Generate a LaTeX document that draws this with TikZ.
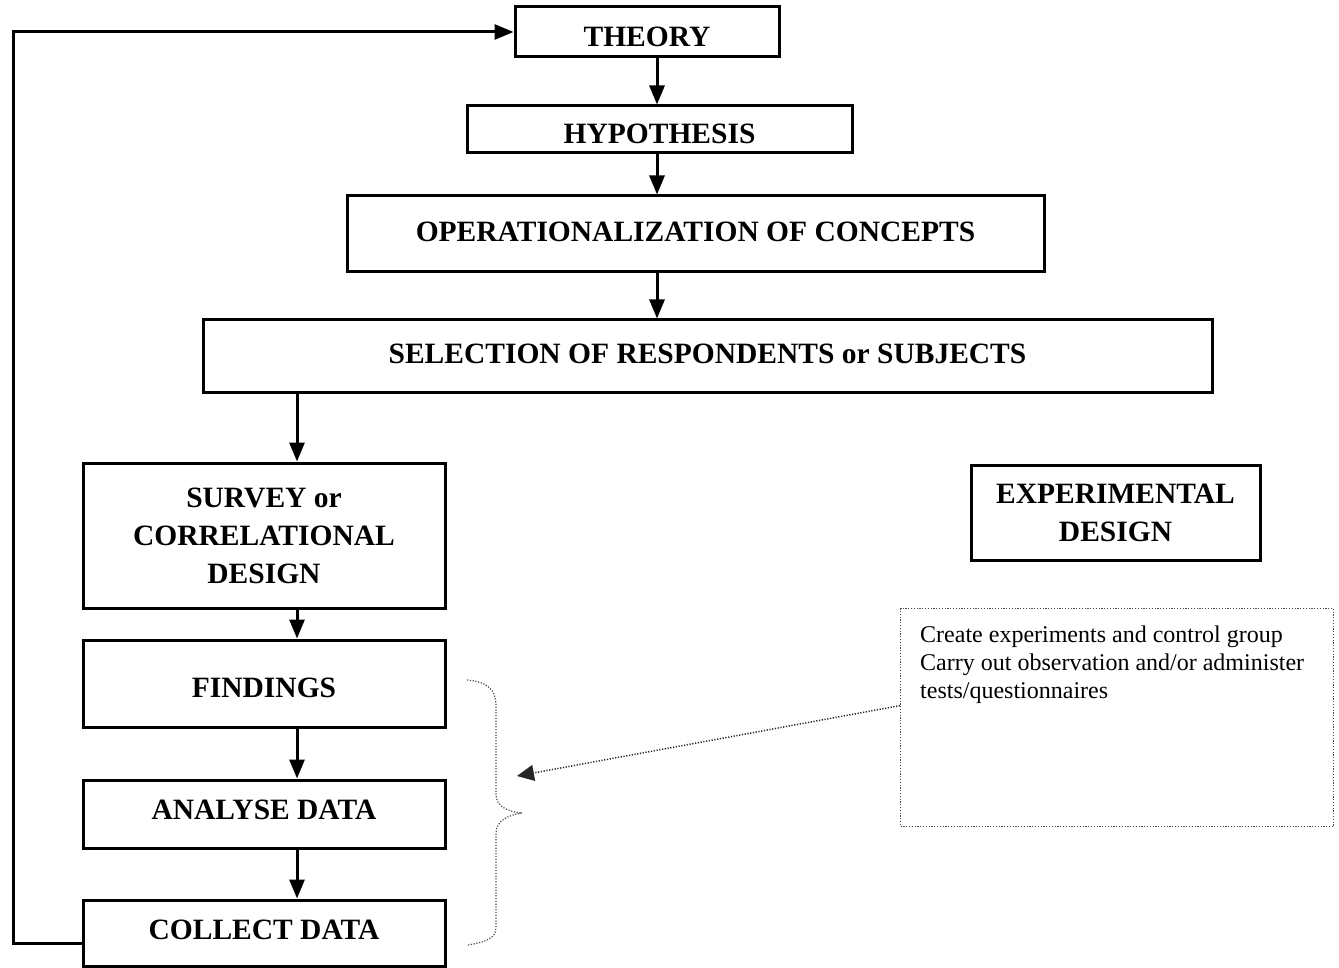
\documentclass[tikz,border=0pt]{standalone}
\usepackage{fontspec}
\setmainfont{Liberation Serif}
\usetikzlibrary{arrows.meta,calc}

% move the ink of a label up or down without changing its box
\newcommand{\nudge}[2]{\raisebox{#1}[\height][\depth]{#2}}

\begin{document}
\begin{tikzpicture}[x=1pt,y=-1pt,
  box/.style={draw,line width=3pt,align=center,inner sep=0pt,
    font=\fontsize{29.5}{38}\selectfont\bfseries},
  arr/.style={line width=3pt,-{Triangle[length=19pt,width=15pt]}},
  dotline/.style={gray!60!black,line width=1.2pt,dash pattern=on 1.2pt off 1.6pt},
  note/.style={align=left,anchor=north west,inner sep=0pt,
    font=\fontsize{24}{28}\selectfont}
]
\useasboundingbox (0,0) rectangle (1339,968);

% main chain of boxes
\node[box,minimum width=264pt,minimum height=50pt] (theory) at (647,32) {\nudge{-5pt}{THEORY}};
\node[box,minimum width=385pt,minimum height=47pt] (hyp) at (659.5,129.5) {\nudge{-4pt}{HYPOTHESIS}};
\node[box,minimum width=697pt,minimum height=76pt] (oper) at (695.5,234) {\nudge{2pt}{OPERATIONALIZATION OF CONCEPTS}};
\node[box,minimum width=1009pt,minimum height=72pt] (sel) at (707.5,356) {\nudge{2pt}{SELECTION OF RESPONDENTS or SUBJECTS}};
\node[box,minimum width=362pt,minimum height=145pt] (survey) at (264,535.5) {SURVEY or\\CORRELATIONAL\\DESIGN};
\node[box,minimum width=289pt,minimum height=95pt] (exper) at (1115.5,512.5) {EXPERIMENTAL\\DESIGN};
\node[box,minimum width=362pt,minimum height=87pt] (find) at (264,683.5) {\nudge{-4pt}{FINDINGS}};
\node[box,minimum width=362pt,minimum height=68pt] (analyse) at (264,814) {\nudge{4pt}{ANALYSE DATA}};
\node[box,minimum width=362pt,minimum height=66pt] (collect) at (264,933) {\nudge{3pt}{COLLECT DATA}};

% vertical spines of the arrows
\coordinate (rspine) at (657,0);
\coordinate (lspine) at (297,0);
\coordinate (loop) at (13,0);

\draw[arr] (theory.south -| rspine) -- (hyp.north -| rspine);
\draw[arr] (hyp.south -| rspine) -- (oper.north -| rspine);
\draw[arr] (oper.south -| rspine) -- (sel.north -| rspine);
\draw[arr] (sel.south -| lspine) -- (survey.north -| lspine);
\draw[arr] (survey.south -| lspine) -- (find.north -| lspine);
\draw[arr] (find.south -| lspine) -- (analyse.north -| lspine);
\draw[arr] (analyse.south -| lspine) -- (collect.north -| lspine);

% feedback loop back to the theory
\draw[arr] ([yshift=-10pt]collect.west) -- ([yshift=-10pt]collect.west -| loop)
  -- (theory.west -| loop) -- (theory.west);

% note box for the experimental design
\node[draw,dotline,minimum width=433pt,minimum height=218pt,anchor=north west] (callout) at (900,608) {};
\node[note] (notetext) at (920,626) {Create experiments and control group\\
Carry out observation and/or administer\\tests/questionnaires};

% brace grouping the last three steps
\draw[dotline] (467,680) .. controls (488,682) and (496,690) .. (496,705)
  -- (496,795) .. controls (496,806) and (508,812) .. (522,813)
  .. controls (508,815) and (496,821) .. (496,833)
  -- (496,928) .. controls (496,938) and (486,942) .. (468,945);

\coordinate (bracetip) at (517,776);
\draw[dotline,black!85,line width=1.5pt,-{Triangle[length=17pt,width=16pt]}] ([yshift=12pt]callout.west) -- (bracetip);
\end{tikzpicture}
\end{document}
